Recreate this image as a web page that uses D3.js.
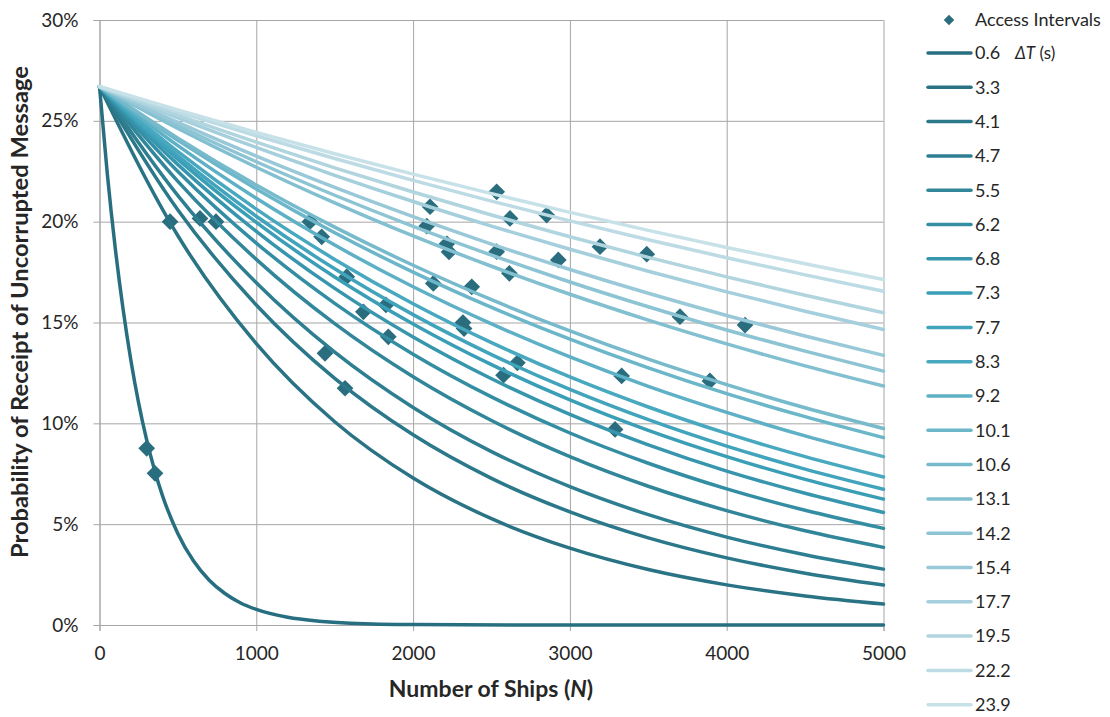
<!DOCTYPE html>
<html>
<head>
<meta charset="utf-8">
<script src="https://cdn.jsdelivr.net/npm/d3@7"></script>
<style>
  body { margin: 0; background: #fff; }
  text { font-family: Lato, "Open Sans", sans-serif; fill: #262626; }
</style>
</head>
<body>
<script>
  "use strict";

  // access intervals dT (s), one curve each
  var intervals = ["0.6", "3.3", "4.1", "4.7", "5.5", "6.2", "6.8", "7.3", "7.7", "8.3",
                   "9.2", "10.1", "10.6", "13.1", "14.2", "15.4", "17.7", "19.5", "22.2", "23.9"];

  // number of ships where the curves were read
  var shipsFast = [0, 50, 100, 150, 200, 250, 300, 350, 400, 500, 600, 700, 800, 900, 1000,
                   1200, 1400, 1600, 2000, 3000, 4000, 5000];
  var ships = [0, 500, 1000, 1500, 2000, 2500, 3000, 3500, 4000, 4500, 5000];

  // probability (%)
  var p06 = [26.7, 22.36, 18.72, 15.68, 13.13, 10.99, 9.2, 7.71, 6.45, 4.53, 3.17, 2.22, 1.56, 1.09, 0.77,
             0.38, 0.19, 0.09, 0.02, 0, 0, 0];
  var p33  = [26.7, 19.30, 13.95, 10.08, 7.29, 5.27, 3.81, 2.75, 1.99, 1.44, 1.04];
  var p41  = [26.7, 20.58, 15.87, 12.23, 9.43, 7.27, 5.61, 4.32, 3.33, 2.57, 1.98];
  var p47  = [26.7, 21.29, 16.97, 13.53, 10.79, 8.60, 6.86, 5.47, 4.36, 3.48, 2.77];
  var p55  = [26.7, 22.00, 18.13, 14.94, 12.31, 10.14, 8.35, 6.88, 5.67, 4.67, 3.85];
  var p62  = [26.7, 22.49, 18.94, 15.95, 13.43, 11.31, 9.52, 8.02, 6.75, 5.69, 4.79];
  var p68  = [26.7, 22.83, 19.52, 16.69, 14.28, 12.21, 10.44, 8.93, 7.63, 6.53, 5.58];
  var p73  = [26.7, 23.09, 19.96, 17.26, 14.93, 12.91, 11.16, 9.65, 8.35, 7.22, 6.24];
  var p77  = [26.7, 23.26, 20.27, 17.66, 15.39, 13.41, 11.68, 10.18, 8.87, 7.73, 6.73];
  var p83  = [26.7, 23.47, 20.62, 18.13, 15.93, 14.00, 12.30, 10.81, 9.50, 8.35, 7.34];
  var p92  = [26.7, 23.77, 21.16, 18.84, 16.77, 14.93, 13.29, 11.83, 10.54, 9.38, 8.35];
  var p101 = [26.7, 24.03, 21.62, 19.45, 17.50, 15.75, 14.17, 12.75, 11.47, 10.33, 9.29];
  var p106 = [26.7, 24.14, 21.82, 19.73, 17.84, 16.13, 14.58, 13.18, 11.92, 10.77, 9.74];
  var p131 = [26.7, 24.62, 22.70, 20.93, 19.29, 17.79, 16.40, 15.12, 13.94, 12.85, 11.85];
  var p142 = [26.7, 24.77, 22.97, 21.31, 19.77, 18.34, 17.01, 15.78, 14.63, 13.58, 12.59];
  var p154 = [26.7, 24.92, 23.25, 21.70, 20.25, 18.89, 17.63, 16.45, 15.35, 14.33, 13.37];
  var p177 = [26.7, 25.15, 23.68, 22.30, 21.00, 19.78, 18.63, 17.54, 16.52, 15.56, 14.65];
  var p195 = [26.7, 25.28, 23.94, 22.67, 21.47, 20.33, 19.25, 18.23, 17.26, 16.35, 15.48];
  var p222 = [26.7, 25.45, 24.26, 23.13, 22.05, 21.02, 20.04, 19.10, 18.21, 17.36, 16.55];
  var p239 = [26.7, 25.54, 24.43, 23.37, 22.36, 21.39, 20.46, 19.57, 18.72, 17.91, 17.13];

  // measured access intervals (ships, %)
  var accessN = [301, 354, 450, 641, 743, 1342, 1417, 1438, 1566, 1577, 1683, 1827, 1842,
                 2087, 2108, 2129, 2216, 2229, 2318, 2325, 2374, 2533, 2533, 2577, 2614, 2618,
                 2665, 2852, 2926, 3192, 3288, 3330, 3490, 3702, 3893, 4117];
  var accessP = [8.76, 7.52, 20.0, 20.16, 20.0, 20.0, 19.25, 13.47, 11.74, 17.27, 15.53, 15.87, 14.29,
                 19.78, 20.74, 16.94, 18.9, 18.5, 15.0, 14.7, 16.77, 21.48, 18.51, 12.39, 17.44, 20.16,
                 13.0, 20.33, 18.10, 18.76, 9.70, 12.35, 18.39, 15.29, 12.10, 14.87];

  var xTicks = [0, 1000, 2000, 3000, 4000, 5000];
  var yTicks = [0, 5, 10, 15, 20, 25, 30];

  var curveData = [p06, p33, p41, p47, p55, p62, p68, p73, p77, p83, p92, p101, p106,
                   p131, p142, p154, p177, p195, p222, p239];

  var colors = ["#276f80", "#297384", "#2b788a", "#2e7e91", "#318699", "#348ea3", "#3796ad",
                "#3a9eb7", "#41a4bc", "#48a8bf", "#5db0c5", "#6bb6c9", "#76bacc", "#82bfd0",
                "#8dc4d4", "#99c9d8", "#a5cfdc", "#b1d5df", "#bcdbe4", "#c7e1e8"];

  var width = 1110, height = 717;
  var plot = { left: 99.5, right: 883.5, top: 20, bottom: 625 };

  var svg = d3.select("body").append("svg")
      .attr("width", width)
      .attr("height", height);

  svg.append("rect").attr("width", width).attr("height", height).attr("fill", "#fff");

  var x = d3.scaleLinear().domain([0, 5000]).range([plot.left, plot.right]);
  var y = d3.scaleLinear().domain([0, 30]).range([plot.bottom, plot.top]);

  // gridlines
  svg.append("g")
      .attr("transform", "translate(0," + plot.bottom + ")")
      .call(d3.axisBottom(x).tickValues(xTicks).tickSize(-(plot.bottom - plot.top)).tickFormat(""))
      .call(function (g) { g.select(".domain").remove(); })
      .selectAll("line").attr("stroke", "#a6a6a6");

  svg.append("g")
      .attr("transform", "translate(" + plot.left + ",0)")
      .call(d3.axisLeft(y).tickValues(yTicks).tickSize(-(plot.right - plot.left)).tickFormat(""))
      .call(function (g) { g.select(".domain").remove(); })
      .selectAll("line").attr("stroke", "#a6a6a6");

  // axes
  var xAxis = svg.append("g")
      .attr("transform", "translate(0," + plot.bottom + ")")
      .call(d3.axisBottom(x).tickValues(xTicks).tickSize(6).tickPadding(16).tickFormat(d3.format("d")));
  var yAxis = svg.append("g")
      .attr("transform", "translate(" + plot.left + ",0)")
      .call(d3.axisLeft(y).tickValues(yTicks).tickSize(6).tickPadding(15).tickFormat(function (d) { return d + "%"; }));

  [xAxis, yAxis].forEach(function (g) {
    g.selectAll(".domain, line").attr("stroke", "#a6a6a6");
    g.selectAll("text").style("font-size", "19px").attr("fill", "#262626")
      .style("font-family", "Lato, sans-serif");
  });

  // access interval diamonds (drawn under the curves)
  var diamond = d3.symbol().type(d3.symbolSquare).size(140);
  svg.append("g").selectAll("path")
      .data(accessN)
      .join("path")
        .attr("d", diamond)
        .attr("transform", function (d, i) {
          return "translate(" + x(d) + "," + y(accessP[i]) + ") rotate(45)";
        })
        .attr("fill", "#2a6d7e");

  // curves
  var line = d3.line()
      .x(function (d) { return x(d[0]); })
      .y(function (d) { return y(d[1]); })
      .curve(d3.curveMonotoneX);

  svg.append("g").selectAll("path")
      .data(curveData)
      .join("path")
        .attr("d", function (vals, i) {
          var xs = i === 0 ? shipsFast : ships;
          return line(vals.map(function (v, j) { return [xs[j], v]; }));
        })
        .attr("fill", "none")
        .attr("stroke", function (d, i) { return colors[i]; })
        .attr("stroke-width", 3.5)
        .attr("stroke-linecap", "round");

  // axis titles
  svg.append("text")
      .attr("x", 491)
      .attr("y", 697)
      .attr("text-anchor", "middle")
      .style("font-size", "23px")
      .style("font-weight", "bold")
      .attr("fill", "#000")
      .call(function (t) {
        t.append("tspan").text("Number of Ships (");
        t.append("tspan").style("font-style", "italic").text("N");
        t.append("tspan").text(")");
      });

  svg.append("text")
      .attr("transform", "translate(28,312) rotate(-90)")
      .attr("text-anchor", "middle")
      .attr("textLength", 492)
      .attr("lengthAdjust", "spacingAndGlyphs")
      .style("font-size", "23px")
      .style("font-weight", "bold")
      .attr("fill", "#000")
      .text("Probability of Receipt of Uncorrupted Message");

  // legend
  var legend = svg.append("g");
  legend.append("path")
      .attr("d", d3.symbol().type(d3.symbolSquare).size(55))
      .attr("transform", "translate(949,20) rotate(45)")
      .attr("fill", "#2a6d7e");
  legend.append("text")
      .attr("x", 975).attr("y", 20).attr("dy", "0.35em")
      .style("font-size", "18px")
      .text("Access Intervals");

  var rows = legend.selectAll("g.row")
      .data(intervals)
      .join("g")
        .attr("class", "row")
        .attr("transform", function (d, i) { return "translate(0," + (53 + i * 34.3) + ")"; });
  rows.append("line")
      .attr("x1", 928).attr("x2", 971)
      .attr("stroke", function (d, i) { return colors[i]; })
      .attr("stroke-width", 3.5)
      .attr("stroke-linecap", "round");
  rows.append("text")
      .attr("x", 975).attr("dy", "0.35em")
      .style("font-size", "18px")
      .text(function (d) { return d; });

  legend.append("text")
      .attr("x", 1015).attr("y", 53).attr("dy", "0.35em")
      .style("font-size", "17px")
      .call(function (t) {
        t.append("tspan").style("font-style", "italic").text("ΔT");
        t.append("tspan").text(" (s)");
      });
</script>
</body>
</html>
